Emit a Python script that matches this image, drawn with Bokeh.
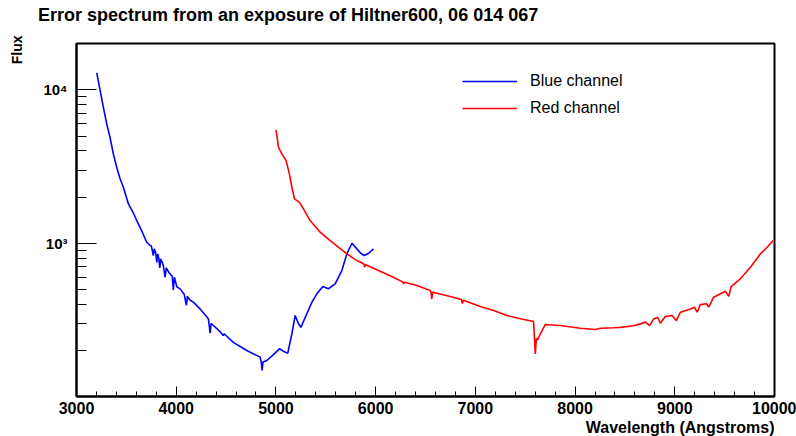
import math
from bokeh.plotting import figure
from bokeh.models import FixedTicker, Title
from bokeh.embed import file_html
from bokeh.resources import INLINE

# ---------------- data ----------------
blue_wl = [3203, 3236, 3269, 3303, 3336, 3369, 3403, 3437, 3470, 3495, 3520, 3545, 3570, 3595,
           3620, 3660, 3704,
           3735, 3750, 3760, 3770, 3780, 3795, 3805, 3815, 3825, 3835, 3845, 3870, 3889, 3900,
           3930, 3960, 3971, 3982, 4006, 4039, 4080, 4102, 4112, 4140, 4172, 4239, 4300, 4323,
           4340, 4350, 4373, 4440, 4471, 4480, 4573, 4708, 4841, 4852, 4861, 4870, 4909, 4975,
           5035, 5080, 5119, 5160, 5193, 5225, 5250, 5310, 5360, 5410, 5471, 5527, 5594, 5661,
           5711, 5762, 5812, 5850, 5885, 5930, 5978]
blue_flux = [12900, 10000, 7710, 6000, 4910, 3830, 3130, 2630, 2320, 2050, 1810, 1690, 1575, 1450,
             1337, 1180, 1015,
             970, 960, 900, 830, 920, 860, 750, 850, 800, 690, 790, 720, 600, 690,
             640, 610, 497, 600, 520, 504, 465, 393, 450, 425, 413, 373, 335, 321,
             259, 300, 291, 265, 250, 257, 226, 200, 181, 170, 148, 168, 172, 188,
             205, 197, 192, 257, 338, 300, 283, 347, 412, 468, 522, 505, 544, 664,
             853, 1000, 919, 860, 832, 860, 919]

red_wl = [5002, 5025, 5059, 5102, 5135, 5160, 5186, 5236, 5276, 5343, 5444, 5544, 5712, 5812,
          5880, 5890, 5900, 6012, 6179, 6270, 6279, 6290, 6414, 6547, 6555, 6563, 6572, 6615,
          6748, 6860, 6870, 6880, 7049, 7183, 7317, 7451, 7584, 7601, 7612, 7624, 7651, 7701,
          7852, 8053, 8203, 8254, 8387, 8454, 8588, 8655, 8705, 8748, 8788, 8828, 8855, 8905,
          8973, 9016, 9056, 9157, 9197, 9224, 9257, 9317, 9340, 9390, 9458, 9508, 9541, 9565,
          9658, 9759, 9859, 9926, 9987]
red_flux = [5480, 4227, 3827, 3462, 2833, 2317, 1947, 1849, 1675, 1406, 1180, 1041, 853, 771,
            735, 700, 725, 671, 600, 560, 545, 557, 530, 492, 480, 434, 480, 472,
            450, 430, 405, 425, 387, 364, 338, 322, 309, 190, 240, 234, 256, 295,
            291, 279, 274, 279, 281, 283, 290, 298, 306, 290, 321, 329, 301, 333,
            338, 313, 355, 373, 383, 355, 398, 403, 383, 445, 468, 487, 450, 522,
            586, 698, 853, 942, 1041]

x_major = [3000, 4000, 5000, 6000, 7000, 8000, 9000, 10000]
x_minor = list(range(3000, 10001, 200))
y_major = [1000, 10000]
y_major_labels = ["10\u00b3", "10\u2074"]
y_minor = [200, 300, 400, 500, 600, 700, 800, 900,
           2000, 3000, 4000, 5000, 6000, 7000, 8000, 9000, 20000]

title_text = "Error spectrum from an exposure of Hiltner600, 06 014 067"
x_title = "Wavelength (Angstroms)"
y_title = "Flux"
series_names = ["Blue channel", "Red channel"]

XMIN, XMAX = 3000, 10000
YMIN, YMAX = 100.2, 20050

FONT = "Liberation Sans"

W, H = 796, 436
ML, MR, MT, MB = 76, 22, 43, 40

p = figure(width=W, height=H, x_range=(XMIN, XMAX), y_range=(YMIN, YMAX),
           y_axis_type="log", output_backend="svg", toolbar_location=None,
           min_border_left=ML, min_border_right=MR, min_border_top=MT,
           min_border_bottom=MB)
p.title.visible = False
p.background_fill_color = "white"
p.border_fill_color = "white"
p.outline_line_color = "black"
p.outline_line_width = 2
p.xgrid.grid_line_color = None
p.ygrid.grid_line_color = None

p.line(blue_wl, blue_flux, line_color="#0000ff", line_width=1.6, legend_label=series_names[0])
p.line(red_wl, red_flux, line_color="#ff0000", line_width=1.6, legend_label=series_names[1])

# x axis
xa = p.xaxis[0]
xa.ticker = FixedTicker(ticks=x_major, minor_ticks=x_minor)
xa.axis_line_width = 2
xa.axis_line_color = "black"
xa.major_tick_in = 10
xa.major_tick_out = 0
xa.minor_tick_in = 5
xa.minor_tick_out = 0
xa.major_tick_line_color = "black"
xa.minor_tick_line_color = "black"
xa.major_label_text_font = FONT
xa.major_label_text_font_style = "bold"
xa.major_label_text_font_size = "16px"
xa.major_label_text_color = "black"
xa.major_label_standoff = 5

# y axis
ya = p.yaxis[0]
ya.ticker = FixedTicker(ticks=y_major, minor_ticks=y_minor)
ya.axis_line_width = 2
ya.axis_line_color = "black"
ya.major_tick_in = 20
ya.major_tick_out = 0
ya.minor_tick_in = 10
ya.minor_tick_out = 0
ya.major_tick_line_color = "black"
ya.minor_tick_line_color = "black"
ya.major_label_overrides = dict(zip(y_major, y_major_labels))
ya.major_label_text_font = FONT
ya.major_label_text_font_style = "bold"
ya.major_label_text_font_size = "15px"
ya.major_label_text_color = "black"
ya.major_label_standoff = 9

# x title (right aligned, below the axis)
p.add_layout(Title(text=x_title, align="right", text_font=FONT, text_font_style="bold",
                   text_font_size="16px", text_color="black", standoff=0), "below")

# main title: a blank spacer title next to the frame lifts the real title up
p.add_layout(Title(text=" ", text_font=FONT, text_font_size="8px", standoff=7.5), "above")
p.add_layout(Title(text=title_text, align="left", offset=-38.5, standoff=0,
                   text_font=FONT, text_font_style="bold", text_font_size="18px",
                   text_color="black"), "above")

# y title: spacer then the title, aligned to the top of the axis
p.add_layout(Title(text=" ", text_font=FONT, text_font_size="8px", standoff=4.8), "left")
p.add_layout(Title(text=y_title, align="right", offset=-8, standoff=0,
                   text_font=FONT, text_font_style="bold", text_font_size="14px",
                   text_color="black"), "left")

lg = p.legend[0]
lg.location = (386, 278)
lg.margin = 0
lg.padding = 0
lg.spacing = 7
lg.glyph_width = 55
lg.glyph_height = 20
lg.label_height = 20
lg.label_standoff = 13
lg.label_text_font = FONT
lg.label_text_font_size = "16px"
lg.label_text_color = "black"
lg.border_line_color = None
lg.background_fill_alpha = 0

open("out.html", "w").write(file_html(p, INLINE))
